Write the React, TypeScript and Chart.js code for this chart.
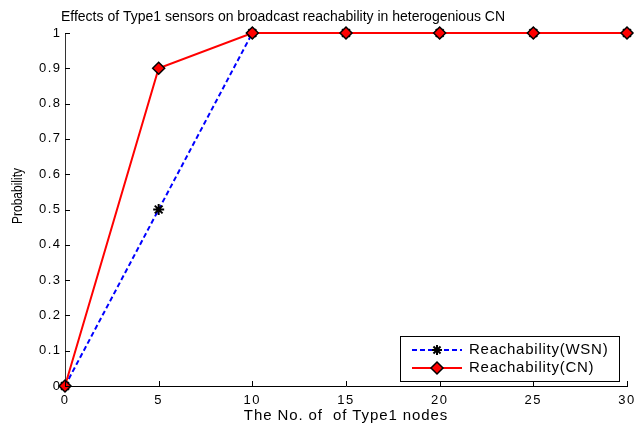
import React, { useEffect, useRef } from 'react';
import { Chart, registerables } from 'chart.js';

Chart.register(...registerables);

const xValues = [0, 5, 10, 15, 20, 25, 30];
const wsnValues = [0, 0.5, 1, 1, 1, 1, 1];
const cnValues = [0, 0.9, 1, 1, 1, 1, 1];
const xTickValues = [0, 5, 10, 15, 20, 25, 30];
const yTickValues = [0, 0.1, 0.2, 0.3, 0.4, 0.5, 0.6, 0.7, 0.8, 0.9, 1];
const yTickLabels = ['0', '0.1', '0.2', '0.3', '0.4', '0.5', '0.6', '0.7', '0.8', '0.9', '1'];
const chartTitle = 'Effects of Type1 sensors on broadcast reachability in heterogenious CN';
const xAxisTitle = 'The No. of  of Type1 nodes';
const yAxisTitle = 'Probability';
const seriesNames = ['Reachability(WSN)', 'Reachability(CN)'];

const FONT = '"Liberation Sans", Arial, sans-serif';

const spacingPlugin = {
  id: 'tickSpacing',
  beforeDraw(chart: any) {
    (chart.ctx as any).letterSpacing = '1.5px';
  },
};

const decorPlugin = {
  id: 'matlabDecor',
  afterDraw(chart: any) {
    const ctx = chart.ctx as any;
    const xs = chart.scales.x;
    const ys = chart.scales.y;
    const area = chart.chartArea;
    ctx.save();
    ctx.letterSpacing = '0px';
    // inward tick marks
    ctx.strokeStyle = '#000';
    ctx.lineWidth = 1;
    ctx.beginPath();
    xTickValues.forEach((v) => {
      const px = Math.round(xs.getPixelForValue(v)) + 0.5;
      ctx.moveTo(px, area.bottom);
      ctx.lineTo(px, area.bottom - 5);
    });
    yTickValues.forEach((v) => {
      const py = Math.round(ys.getPixelForValue(v)) + 0.5;
      ctx.moveTo(area.left, py);
      ctx.lineTo(area.left + 5, py);
    });
    ctx.stroke();

    // title
    ctx.fillStyle = '#000';
    ctx.font = `14px ${FONT}`;
    ctx.textAlign = 'center';
    ctx.textBaseline = 'middle';
    ctx.fillText(chartTitle, 283, 17);

    // x axis title
    ctx.font = `15px ${FONT}`;
    ctx.letterSpacing = '0.9px';
    ctx.fillText(xAxisTitle, 346, 416);
    ctx.letterSpacing = '0px';

    // y axis title
    ctx.save();
    ctx.font = `14px ${FONT}`;
    const w = ctx.measureText(yAxisTitle).width;
    ctx.translate(18, 196);
    ctx.rotate(-Math.PI / 2);
    ctx.scale(56 / w, 1);
    ctx.fillText(yAxisTitle, 0, 0);
    ctx.restore();

    // legend
    const lx = 400.5, ly = 336.5, lw = 219, lh = 45;
    ctx.fillStyle = '#fff';
    ctx.fillRect(lx, ly, lw, lh);
    ctx.strokeStyle = '#000';
    ctx.lineWidth = 1;
    ctx.strokeRect(lx, ly, lw, lh);

    const rows = [350, 368];
    // WSN row
    ctx.strokeStyle = '#0000ff';
    ctx.lineWidth = 2;
    ctx.setLineDash([5, 3]);
    ctx.beginPath();
    ctx.moveTo(412, rows[0]);
    ctx.lineTo(462, rows[0]);
    ctx.stroke();
    ctx.setLineDash([]);
    ctx.strokeStyle = '#000';
    ctx.lineWidth = 2;
    ctx.beginPath();
    const r = 5;
    const cx = 437, cy = rows[0];
    ctx.moveTo(cx - r, cy); ctx.lineTo(cx + r, cy);
    ctx.moveTo(cx, cy - r); ctx.lineTo(cx, cy + r);
    const d = r * Math.SQRT1_2;
    ctx.moveTo(cx - d, cy - d); ctx.lineTo(cx + d, cy + d);
    ctx.moveTo(cx - d, cy + d); ctx.lineTo(cx + d, cy - d);
    ctx.stroke();

    // CN row
    ctx.strokeStyle = '#ff0000';
    ctx.lineWidth = 2;
    ctx.beginPath();
    ctx.moveTo(412, rows[1]);
    ctx.lineTo(462, rows[1]);
    ctx.stroke();
    ctx.beginPath();
    const dr = 6;
    ctx.moveTo(437, rows[1] - dr);
    ctx.lineTo(437 + dr, rows[1]);
    ctx.lineTo(437, rows[1] + dr);
    ctx.lineTo(437 - dr, rows[1]);
    ctx.closePath();
    ctx.fillStyle = '#ff0000';
    ctx.fill();
    ctx.strokeStyle = '#000';
    ctx.lineWidth = 1.5;
    ctx.stroke();

    ctx.fillStyle = '#000';
    ctx.font = `15px ${FONT}`;
    ctx.letterSpacing = '0.75px';
    ctx.textAlign = 'left';
    ctx.textBaseline = 'middle';
    ctx.fillText(seriesNames[0], 469, rows[0]);
    ctx.fillText(seriesNames[1], 469, rows[1]);
    ctx.letterSpacing = '0px';
    ctx.restore();
    ctx.letterSpacing = '0px';
  },
};

export default function App() {
  const canvasRef = useRef<HTMLCanvasElement | null>(null);

  useEffect(() => {
    const canvas = canvasRef.current;
    if (!canvas) return;
    const chart = new Chart(canvas, {
      type: 'line',
      data: {
        datasets: [
          {
            label: seriesNames[0],
            data: xValues.map((x, i) => ({ x, y: wsnValues[i] })),
            borderColor: '#0000ff',
            borderWidth: 2,
            borderDash: [5, 3],
            pointStyle: 'star',
            pointRadius: 5.5,
            pointBorderColor: '#000',
            pointBorderWidth: 2,
            pointBackgroundColor: '#000',
            tension: 0,
            fill: false,
            clip: false,
            order: 1,
          },
          {
            label: seriesNames[1],
            data: xValues.map((x, i) => ({ x, y: cnValues[i] })),
            borderColor: '#ff0000',
            borderWidth: 2,
            pointStyle: 'rectRot',
            pointRadius: 6,
            pointBorderColor: '#000',
            pointBorderWidth: 1.5,
            pointBackgroundColor: '#ff0000',
            tension: 0,
            fill: false,
            clip: false,
            order: 0,
          },
        ],
      },
      options: {
        responsive: false,
        animation: false,
        layout: { padding: { top: 33, right: 9, left: 0, bottom: 0 } },
        plugins: {
          legend: { display: false },
          tooltip: { enabled: false },
          title: { display: false },
        },
        scales: {
          x: {
            type: 'linear',
            min: 0,
            max: 30,
            afterBuildTicks: (scale: any) => {
              scale.ticks = xTickValues.map((v) => ({ value: v }));
            },
            afterFit: (scale: any) => {
              scale.height = 39;
              scale.paddingRight = 0;
              scale.paddingLeft = 0;
            },
            ticks: {
              color: '#000',
              font: { family: FONT, size: 13 },
              padding: 7,
              maxRotation: 0,
              autoSkip: false,
              callback: (v: any) => String(v),
            },
            grid: { display: false, drawTicks: false },
            border: { display: true, color: '#000', width: 1 },
          },
          y: {
            type: 'linear',
            min: 0,
            max: 1,
            afterBuildTicks: (scale: any) => {
              scale.ticks = yTickValues.map((v) => ({ value: v }));
            },
            afterFit: (scale: any) => {
              scale.width = 65;
              scale.paddingTop = 0;
              scale.paddingBottom = 0;
            },
            ticks: {
              color: '#000',
              font: { family: FONT, size: 13 },
              padding: 3.5,
              autoSkip: false,
              callback: (_v: any, i: number) => yTickLabels[i],
            },
            grid: { display: false, drawTicks: false },
            border: { display: true, color: '#333', width: 1 },
          },
        },
      },
      plugins: [spacingPlugin, decorPlugin],
    } as any);
    return () => chart.destroy();
  }, []);

  return (
    <div style={{ position: 'absolute', left: 0, top: 0, width: 636, height: 425, background: '#fff' }}>
      <canvas ref={canvasRef} width={636} height={425} style={{ display: 'block' }} />
    </div>
  );
}
